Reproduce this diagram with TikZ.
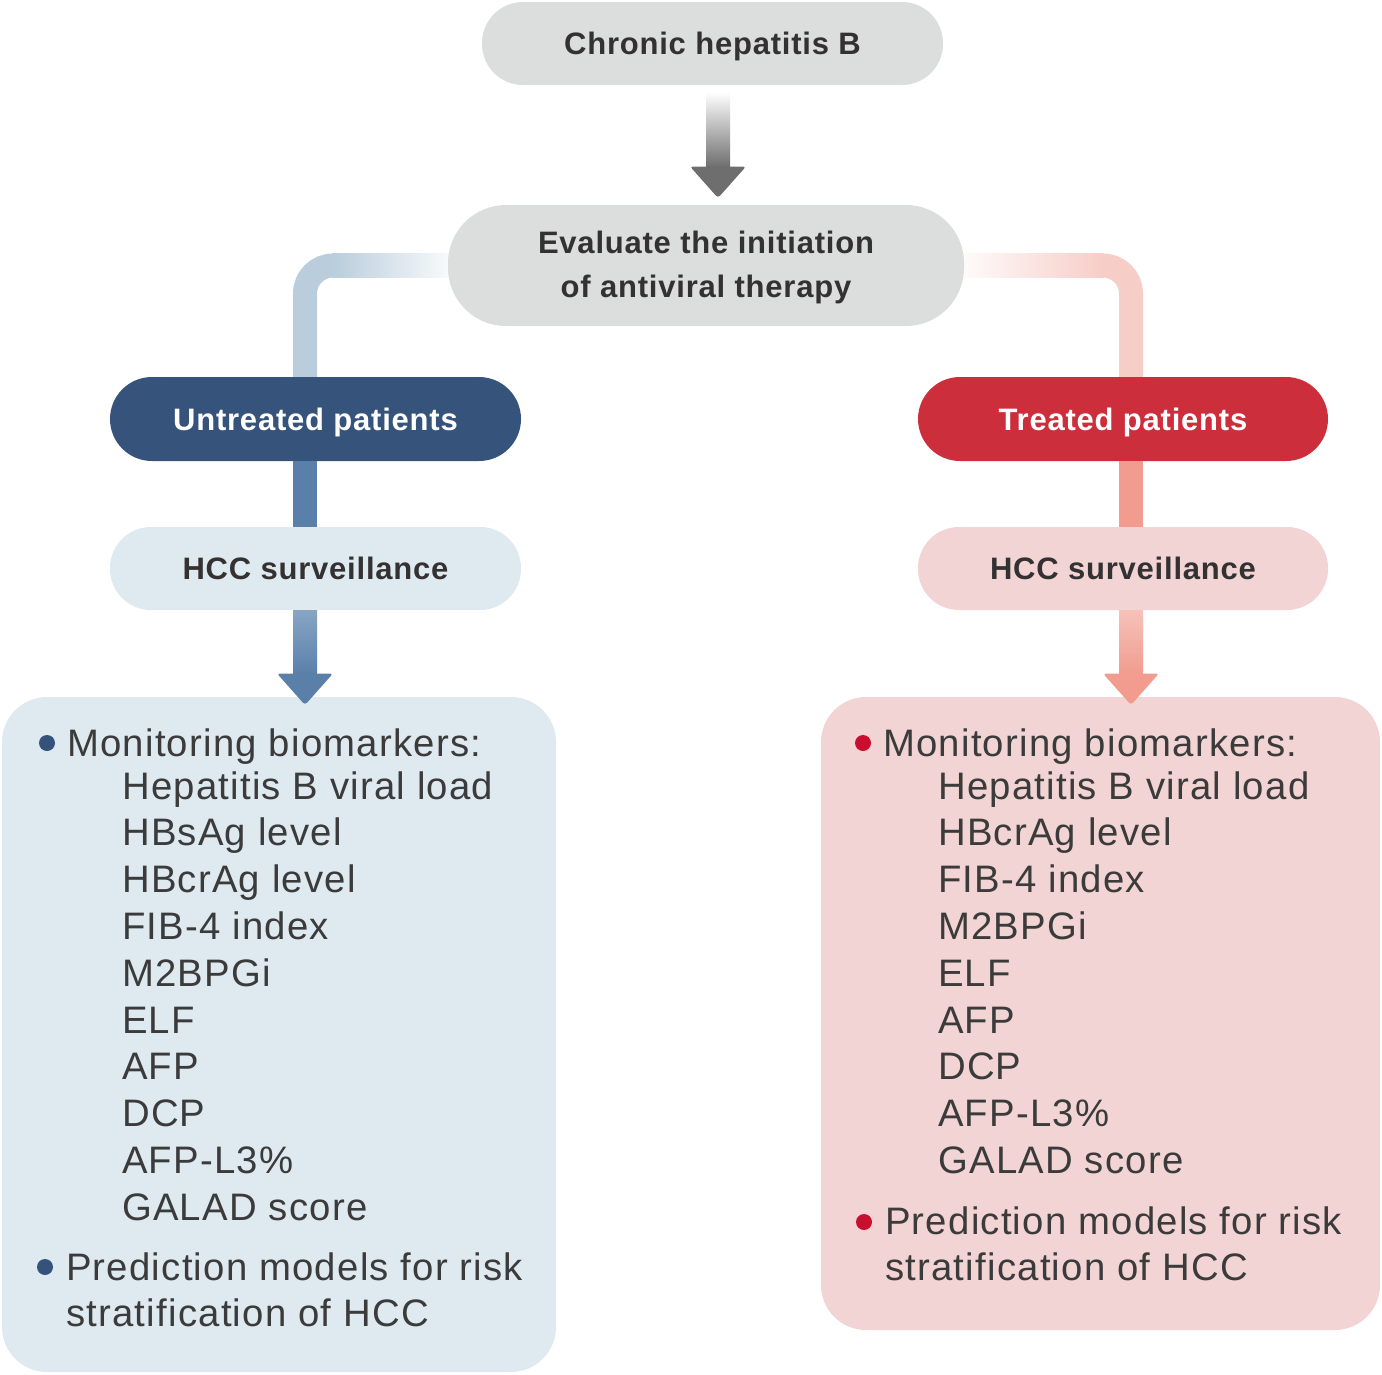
\documentclass[tikz,border=0pt]{standalone}
\usepackage{fontspec}
\setmainfont{Liberation Sans}
\newfontfamily\bodyfont[LetterSpace=2.5]{Liberation Sans}
\newfontfamily\listfont[LetterSpace=3.2]{Liberation Sans}
\usetikzlibrary{calc,backgrounds}
\definecolor{boxgray}{HTML}{DCDDDD}
\definecolor{darkblue}{HTML}{36537B}
\definecolor{darkred}{HTML}{CC2E3C}
\definecolor{lightblue}{HTML}{DFE9F0}
\definecolor{lightpink}{HTML}{F1D4D3}
\definecolor{shaftblue}{HTML}{5A80AA}
\definecolor{shaftbluetop}{HTML}{88A6C4}
\definecolor{shaftred}{HTML}{F19C8F}
\definecolor{shaftredtop}{HTML}{F6C2BA}
\definecolor{connblue}{HTML}{B9CDDC}
\definecolor{connred}{HTML}{F7CDC7}
\definecolor{arrgray}{HTML}{6E6E6E}
\definecolor{titletext}{HTML}{333132}
\definecolor{bodytext}{HTML}{3B3B3B}
\definecolor{bulletblue}{HTML}{35527A}
\definecolor{bulletred}{HTML}{C8102E}
\newcommand{\fatarrow}[5]{%
  \shade[top color=#3, bottom color=#4] ($(#1)+(-12,0)$) rectangle ($(#2)+(12,-31)$);
  \fill[#5, rounded corners=3pt] ($(#2)+(-28,-31.5)$) -- ($(#2)+(28,-31.5)$) -- (#2) -- cycle;
}
\begin{document}
\begin{tikzpicture}[x=1pt,y=-1pt,
  title/.style={font=\bodyfont\bfseries\fontsize{31}{44}\selectfont, text=titletext, align=center, text height=22.3pt, text depth=0pt, inner sep=0pt},
  whitetitle/.style={title, text=white},
  item/.style={font=\listfont\fontsize{38.3}{46}\selectfont, text=bodytext, anchor=base west, inner sep=0pt},
  dot/.style={circle, minimum size=16pt, inner sep=0pt},
  conn/.style={line width=24pt, rounded corners=28pt}]
\useasboundingbox (0,0) rectangle (1382,1374);

% boxes
\node[title, fill=boxgray, rounded corners=41pt, minimum width=461pt, minimum height=83pt] (top) at (712.5,43.5) {Chronic hepatitis B};
\node[fill=boxgray, rounded corners=58pt, minimum width=516pt, minimum height=121pt, inner sep=0pt] (eval) at (706,265.5) {};
\node[title, anchor=base] (evalt1) at (706,253) {Evaluate the initiation};
\node[title, anchor=base] (evalt2) at (706,297) {of antiviral therapy};
\node[whitetitle, fill=darkblue, rounded corners=42pt, minimum width=411pt, minimum height=84pt] (untr) at (315.5,419) {Untreated patients};
\node[whitetitle, fill=darkred, rounded corners=42pt, minimum width=410pt, minimum height=84pt] (treat) at (1123,419) {Treated patients};
\node[title, fill=lightblue, rounded corners=41pt, minimum width=411pt, minimum height=83pt] (hccL) at (315.5,568.5) {HCC surveillance};
\node[title, fill=lightpink, rounded corners=41pt, minimum width=410pt, minimum height=83pt] (hccR) at (1123,568.5) {HCC surveillance};
\node[fill=lightblue, rounded corners=45pt, minimum width=554pt, minimum height=675pt, inner sep=0pt] (bigL) at (279,1034.5) {};
\node[fill=lightpink, rounded corners=45pt, minimum width=559pt, minimum height=633pt, inner sep=0pt] (bigR) at (1100.5,1013.5) {};

% light connectors from the evaluation box
\begin{scope}[on background layer]
  \draw[conn, connblue] ([xshift=-10.5pt]untr.north) |- ([xshift=-115pt]eval.west);
  \shade[left color=connblue, right color=white] ([xshift=-116pt,yshift=12pt]eval.west) rectangle ([xshift=14pt,yshift=-12pt]eval.west);
  \draw[conn, connred] ([xshift=8pt]treat.north) |- ([xshift=139pt]eval.east);
  \shade[left color=white, right color=connred] ([xshift=-14pt,yshift=12pt]eval.east) rectangle ([xshift=140pt,yshift=-12pt]eval.east);
\end{scope}

% solid shafts between patient boxes and surveillance boxes
\draw[line width=24pt, shaftblue] ([xshift=-10.5pt]untr.south) -- ([xshift=-10.5pt]hccL.north);
\draw[line width=24pt, shaftred] ([xshift=8pt]treat.south) -- ([xshift=8pt]hccR.north);

% block arrows
\coordinate (s0) at ([xshift=5.5pt,yshift=-7pt]top.south);
\coordinate (t0) at (718,198);
\fatarrow{s0}{t0}{white}{arrgray}{arrgray}
\coordinate (sL) at ([xshift=-10.5pt]hccL.south);
\coordinate (tL) at (305,705);
\fatarrow{sL}{tL}{shaftbluetop}{shaftblue}{shaftblue}
\coordinate (sR) at ([xshift=8pt]hccR.south);
\coordinate (tR) at (1131,705);
\fatarrow{sR}{tR}{shaftredtop}{shaftred}{shaftred}

% left list
\node[dot, fill=bulletblue] (dL1) at (47,743) {};
\node[item] (lm) at (67,756) {Monitoring biomarkers:};
\foreach \t [count=\i] in {Hepatitis B viral load, HBsAg level, HBcrAg level, FIB-4 index, M2BPGi, ELF, AFP, DCP, AFP-L3\%, GALAD score}
  \node[item] (lb\i) at (122,{799+46.8*(\i-1)}) {\t};
\node[dot, fill=bulletblue] (dL2) at (45,1267) {};
\node[item] (lp1) at (66,1280) {Prediction models for risk};
\node[item] (lp2) at (66,1326) {stratification of HCC};

% right list
\node[dot, fill=bulletred] (dR1) at (863,743) {};
\node[item] (rm) at (883,756) {Monitoring biomarkers:};
\foreach \t [count=\i] in {Hepatitis B viral load, HBcrAg level, FIB-4 index, M2BPGi, ELF, AFP, DCP, AFP-L3\%, GALAD score}
  \node[item] (rb\i) at (938,{799+46.8*(\i-1)}) {\t};
\node[dot, fill=bulletred] (dR2) at (864,1222) {};
\node[item] (rp1) at (885,1234) {Prediction models for risk};
\node[item] (rp2) at (885,1280) {stratification of HCC};
\end{tikzpicture}
\end{document}
